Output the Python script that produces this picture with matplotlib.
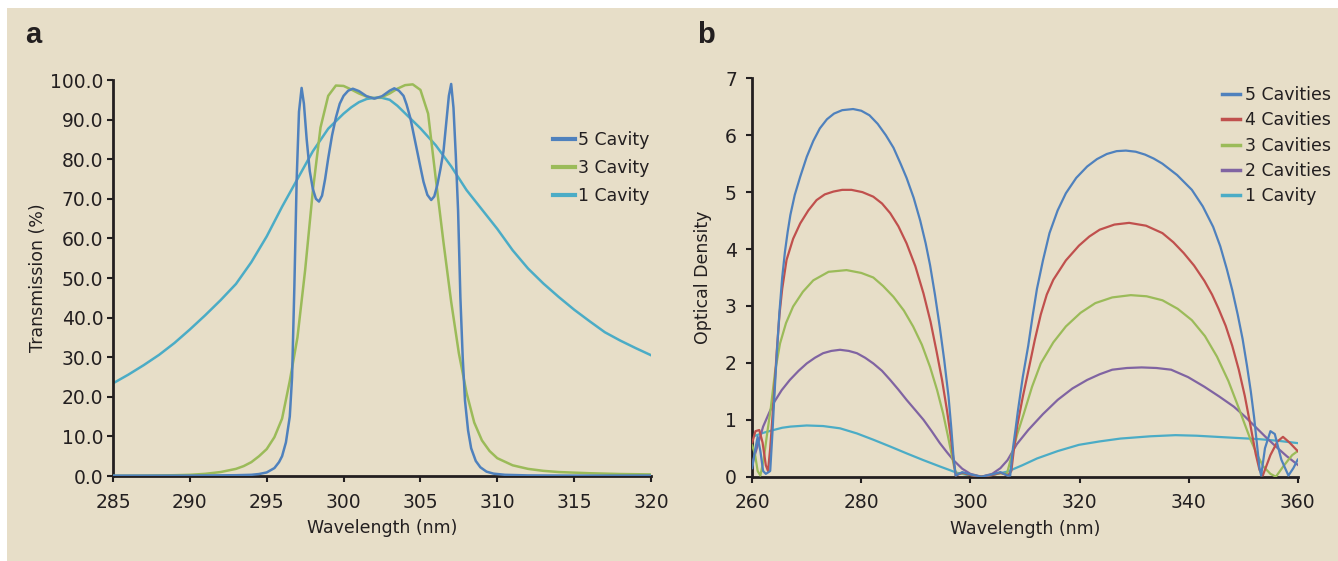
import matplotlib
matplotlib.use("Agg")
import matplotlib.pyplot as plt
from matplotlib.patches import Rectangle

# ---- panel a: transmission ----
wl_1cav = [285, 286, 287, 288, 289, 290, 291, 292, 293, 294, 295, 296, 297,
           298, 299, 300, 300.5, 301, 301.5, 302, 302.5, 303, 303.5, 304, 305,
           306, 307, 308, 309, 310, 311, 312, 313, 314, 315, 316, 317, 318,
           319, 320]
t_1cav = [23.4, 25.6, 28.0, 30.6, 33.6, 37.0, 40.6, 44.4, 48.5, 54.0, 60.5,
          68.0, 75.0, 82.0, 87.7, 91.5, 93.1, 94.4, 95.2, 95.5, 95.5, 95.0,
          93.5, 91.6, 87.8, 83.5, 78.2, 72.2, 67.3, 62.4, 57.0, 52.4, 48.6,
          45.2, 42.0, 39.1, 36.3, 34.2, 32.3, 30.5]

wl_3cav = [285, 287, 289, 290, 291, 292, 293, 293.5, 294, 294.5, 295, 295.5,
           296, 296.5, 297, 297.5, 298, 298.5, 299, 299.5, 300, 300.5, 301,
           301.5, 302, 302.5, 303, 303.5, 304, 304.5, 305, 305.5, 306, 306.5,
           307, 307.5, 308, 308.5, 309, 309.5, 310, 311, 312, 313, 314, 316,
           318, 320]
t_3cav = [0.05, 0.1, 0.2, 0.3, 0.55, 1.0, 1.8, 2.5, 3.5, 5.0, 6.8, 9.8,
          14.5, 24, 35, 52, 72, 88, 96, 98.6, 98.5, 97.6, 96.6,
          95.8, 95.4, 95.7, 96.6, 97.8, 98.7, 98.9, 97.5, 91.5, 75, 59,
          44, 31, 21, 13.5, 9, 6.3, 4.5, 2.7, 1.8, 1.3, 1.0, 0.7,
          0.5, 0.4]

wl_5cav = [285, 290, 293, 294, 294.5, 295, 295.5, 295.8, 296.0, 296.25, 296.5,
           296.65, 296.8, 296.95, 297.1, 297.27, 297.42, 297.6, 297.8, 298.0,
           298.2, 298.4, 298.6, 298.8, 299.0, 299.25, 299.5, 299.75, 300.0,
           300.3, 300.6, 301.0, 301.5, 302.0, 302.5, 303.0, 303.3, 303.6,
           303.9, 304.1, 304.35, 304.55, 304.8, 305.0, 305.2, 305.45, 305.7,
           305.9, 306.1, 306.3, 306.5, 306.7, 306.85, 307.0, 307.15, 307.3,
           307.45, 307.6, 307.75, 307.9, 308.1, 308.3, 308.6, 308.9, 309.3,
           309.75, 310.5, 312, 315, 320]
t_5cav = [0.1, 0.1, 0.2, 0.3, 0.5, 0.9, 2.0, 3.5, 5.0, 8.5, 15,
          25, 48, 75, 92, 98, 94, 85, 77, 72.5,
          70, 69.3, 70.8, 75, 80.2, 86, 90.5, 94, 96,
          97.3, 97.8, 97.2, 95.9, 95.3, 95.9, 97.3, 97.9, 97.3,
          96, 93.8, 90.3, 86.5, 81.8, 78, 74.3, 71, 69.7,
          70.6, 73.5, 77.5, 82, 90, 96, 99, 93, 81,
          67, 45, 30, 19, 11.5, 7, 3.8, 2.2, 1.1,
          0.6, 0.3, 0.15, 0.1, 0.1]

# ---- panel b: optical density ----
wl_b5 = [260.0, 260.5, 261.0, 261.5, 262.0, 262.5, 263.0, 263.3, 263.7, 264.0,
         264.5, 265.0, 265.5, 266.0, 266.5, 267.0, 267.8, 268.8, 270.0, 271.2,
         272.4, 273.7, 275.0, 276.5, 278.5, 280.0, 281.5, 283.0, 284.5, 285.9,
         287.2, 288.3, 289.6, 290.8, 291.8, 292.6, 293.5, 294.4, 295.2, 296.0,
         296.5, 296.9, 297.3, 298.5, 300, 302, 304, 305.5, 306.8, 307.3,
         307.8, 308.3, 308.7, 309.6, 310.6, 311.4, 312.2, 313.3, 314.5, 316.0,
         317.5, 319.4, 321.4, 323.2, 325.0, 326.8, 328.5, 330.3, 332.0, 333.6,
         335.2, 337.9, 340.6, 342.6, 344.5, 345.8, 347.0, 348.0, 349.0, 349.9,
         350.7, 351.4, 352.0, 352.5, 353.0, 353.3, 354.0, 355.0, 355.8, 357.0,
         358.3, 359.2, 360]
od_b5 = [0.15, 0.45, 0.7, 0.45, 0.1, 0.05, 0.08, 0.1, 0.75, 1.3,
         2.15, 2.9, 3.5, 3.95, 4.3, 4.6, 4.95, 5.27, 5.62, 5.9,
         6.12, 6.28, 6.38, 6.44, 6.46, 6.43, 6.35, 6.2, 6.0, 5.78,
         5.5, 5.25, 4.9, 4.5, 4.1, 3.72, 3.2, 2.62, 2.05, 1.4,
         0.85, 0.35, 0.02, 0.08, 0.04, 0.0, 0.04, 0.08, 0.02, 0.02,
         0.5, 0.85, 1.15, 1.75, 2.3, 2.82, 3.3, 3.8, 4.28, 4.68,
         4.98, 5.25, 5.45, 5.58, 5.67, 5.72, 5.73, 5.71, 5.66, 5.59,
         5.5, 5.3, 5.04, 4.75, 4.39, 4.05, 3.65, 3.28, 2.85, 2.42,
         1.95, 1.5, 1.05, 0.6, 0.15, 0.02, 0.5, 0.8, 0.75, 0.3,
         0.02, 0.15, 0.3]

wl_b4 = [260.0, 260.6, 261.3, 261.9, 262.5, 262.9, 263.3, 263.9, 264.5, 265.0,
         265.5, 266.3, 267.5, 268.8, 270.3, 271.8, 273.3, 274.9, 276.5, 278.2,
         280.2, 282.2, 283.8, 285.3, 286.8, 288.3, 289.9, 291.4, 292.7, 293.8,
         294.8, 295.7, 296.4, 296.9, 297.3, 298.5, 300, 302, 304, 305.5,
         306.9, 307.5, 308.0, 308.6, 309.6, 310.6, 311.8, 312.9, 314.0, 315.2,
         317.5, 319.9, 321.8, 323.7, 326.4, 329.1, 332.2, 335.2, 337.2, 339.1,
         341.0, 342.9, 344.3, 345.5, 346.8, 348.0, 349.2, 350.3, 351.3, 352.3,
         353.0, 353.6, 354.3, 355.0, 356.3, 357.3, 358.5, 359.3, 360]
od_b4 = [0.6, 0.8, 0.82, 0.6, 0.2, 0.1, 0.5, 1.3, 2.2, 2.85,
         3.3, 3.81, 4.18, 4.45, 4.68, 4.86, 4.96, 5.01, 5.04, 5.04,
         5.0, 4.92, 4.8, 4.63, 4.4, 4.1, 3.7, 3.22, 2.72, 2.2,
         1.7, 1.17, 0.7, 0.3, 0.02, 0.07, 0.03, 0.0, 0.03, 0.07,
         0.02, 0.1, 0.5, 0.9, 1.4, 1.85, 2.4, 2.85, 3.2, 3.46,
         3.8, 4.06, 4.22, 4.34, 4.43, 4.46, 4.41, 4.28, 4.12, 3.93,
         3.71, 3.44, 3.2, 2.95, 2.65, 2.3, 1.88, 1.42, 0.92, 0.4,
         0.12, 0.02, 0.2, 0.38, 0.62, 0.7, 0.6, 0.52, 0.45]

wl_b3 = [260.0, 260.5, 261.0, 261.5, 262.1, 262.8, 263.4, 264.2, 265.1, 266.2,
         267.5, 269.3, 271.2, 274.0, 277.3, 280.0, 282.2, 284.0, 285.9, 287.8,
         289.5, 291.1, 292.6, 293.9, 295.0, 295.8, 296.5, 297.0, 297.4, 298.5,
         300, 302, 304, 305.5, 306.7, 307.5, 308.6, 309.8, 311.3, 312.9,
         315.2, 317.5, 320.2, 322.9, 326.0, 329.4, 332.3, 335.2, 338.0, 340.6,
         343.0, 345.2, 347.3, 349.1, 350.3, 351.4, 352.6, 353.7, 355.0, 356.0,
         357.5, 359, 360]
od_b3 = [0.55, 0.4, 0.1, 0.02, 0.3, 0.8, 1.2, 1.85, 2.34, 2.7,
         2.99, 3.25, 3.45, 3.6, 3.63, 3.58, 3.5, 3.35, 3.16, 2.92,
         2.64, 2.32, 1.93, 1.52, 1.11, 0.75, 0.42, 0.18, 0.05, 0.06,
         0.03, 0.0, 0.03, 0.06, 0.05, 0.35, 0.75, 1.11, 1.58, 1.99,
         2.36, 2.64, 2.88, 3.05, 3.15, 3.19, 3.17, 3.1, 2.95, 2.75,
         2.47, 2.11, 1.68, 1.23, 0.92, 0.64, 0.38, 0.18, 0.05, 0.0,
         0.2, 0.38, 0.45]

wl_b2 = [260.0, 260.2, 261.0, 262.0, 263.0, 263.9, 265.4, 266.9, 268.5, 270.0,
         271.5, 273.0, 274.5, 276.1, 277.7, 279.2, 280.7, 282.2, 283.8, 285.3,
         286.8, 288.3, 289.9, 291.4, 292.9, 294.4, 295.7, 296.9, 298.5, 300,
         302, 304, 305.5, 306.8, 308.5, 310.6, 313.3, 316.0, 318.7, 321.4,
         323.7, 326.0, 328.7, 331.4, 334.1, 336.8, 339.9, 342.9, 345.6, 348.3,
         350.3, 352.2, 354.1, 356.0, 358.0, 360]
od_b2 = [0.2, 0.29, 0.55, 0.88, 1.1, 1.29, 1.52, 1.70, 1.86, 1.99,
         2.09, 2.17, 2.21, 2.23, 2.21, 2.17, 2.09, 1.99, 1.86, 1.70,
         1.53, 1.35, 1.17, 1.0, 0.8, 0.59, 0.43, 0.29, 0.14, 0.05,
         0.0, 0.05, 0.15, 0.29, 0.57, 0.82, 1.1, 1.35, 1.55, 1.70,
         1.8, 1.88, 1.91, 1.92, 1.91, 1.88, 1.75, 1.58, 1.41, 1.23,
         1.06, 0.88, 0.7, 0.53, 0.36, 0.21]

wl_b1 = [260, 262, 263.9, 265.5, 267, 270, 273, 276.1, 279.2, 282.2, 285.3,
         288.3, 291.4, 294.4, 297.5, 300, 302, 304, 306.8, 309.5, 312.2, 316,
         319.9, 323.7, 327.5, 333, 337.6, 341.5, 345.2, 349, 352.9, 356.5, 360]
od_b1 = [0.70, 0.77, 0.82, 0.86, 0.88, 0.90, 0.89, 0.85, 0.76, 0.65, 0.53,
         0.41, 0.29, 0.18, 0.07, 0.02, 0.0, 0.03, 0.09, 0.2, 0.32, 0.45,
         0.56, 0.62, 0.67, 0.71, 0.73, 0.72, 0.70, 0.68, 0.66, 0.63, 0.59]

BLUE = "#4f81bd"
RED = "#c0504d"
GREEN = "#9bbb59"
PURPLE = "#8064a2"
CYAN = "#4bacc6"
BG = "#e7dec8"
INK = "#231f20"

plt.rcParams["font.family"] = ["DejaVu Sans"]
plt.rcParams["text.color"] = INK
plt.rcParams["axes.labelcolor"] = INK
plt.rcParams["xtick.color"] = INK
plt.rcParams["ytick.color"] = INK

fig = plt.figure(figsize=(13.38, 5.61), dpi=100)
fig.patch.set_facecolor("white")
fig.patches.append(Rectangle((7 / 1338, 0), 1 - 7 / 1338, 1 - 8 / 561,
                             transform=fig.transFigure, facecolor=BG,
                             edgecolor="none", zorder=-10))

ax_a = fig.add_axes([113 / 1338, 1 - 476 / 561, 538 / 1338, 396 / 561])
ax_b = fig.add_axes([752.2 / 1338, 1 - 476.7 / 561, 545.5 / 1338, 398.4 / 561])


def style(ax, ypad):
    ax.set_facecolor("none")
    for s in ["top", "right"]:
        ax.spines[s].set_visible(False)
    for s in ["left", "bottom"]:
        ax.spines[s].set_linewidth(2)
        ax.spines[s].set_color(INK)
    ax.tick_params(direction="out", length=4, width=1.5, labelsize=13.5)
    ax.tick_params(axis="x", pad=8)
    ax.tick_params(axis="y", pad=ypad)


# panel a
ax_a.plot(wl_1cav, t_1cav, color=CYAN, lw=1.8, label="1 Cavity", zorder=2)
ax_a.plot(wl_3cav, t_3cav, color=GREEN, lw=1.8, label="3 Cavity", zorder=3)
ax_a.plot(wl_5cav, t_5cav, color=BLUE, lw=1.8, label="5 Cavity", zorder=4)
ax_a.set_xlim(285, 320)
ax_a.set_ylim(0, 100)
ax_a.set_xticks(range(285, 321, 5))
ax_a.set_yticks(range(0, 101, 10))
ax_a.set_yticklabels(["%.1f" % v for v in range(0, 101, 10)])
style(ax_a, 3)
ax_a.text(0.5, -0.131, "Wavelength (nm)", transform=ax_a.transAxes,
          ha="center", va="center", fontsize=12.5)
ax_a.text(-0.139, 0.5, "Transmission (%)", transform=ax_a.transAxes,
          ha="center", va="center", rotation=90, fontsize=12.5)
h, l = ax_a.get_legend_handles_labels()
leg_a = fig.legend(h[::-1], l[::-1], loc="upper left",
                   bbox_to_anchor=(553 / 1338, 1 - 131 / 561), frameon=False,
                   fontsize=12.5, handlelength=1.25, handletextpad=0.2,
                   labelspacing=0.58, borderpad=0, borderaxespad=0)
for line in leg_a.get_lines():
    line.set_linewidth(3)

# panel b
ax_b.plot(wl_b1, od_b1, color=CYAN, lw=1.6, label="1 Cavity", zorder=2)
ax_b.plot(wl_b2, od_b2, color=PURPLE, lw=1.6, label="2 Cavities", zorder=3)
ax_b.plot(wl_b3, od_b3, color=GREEN, lw=1.6, label="3 Cavities", zorder=4)
ax_b.plot(wl_b4, od_b4, color=RED, lw=1.6, label="4 Cavities", zorder=5)
ax_b.plot(wl_b5, od_b5, color=BLUE, lw=1.6, label="5 Cavities", zorder=6)
ax_b.set_xlim(260, 360)
ax_b.set_ylim(0, 7)
ax_b.set_xticks(range(260, 361, 20))
ax_b.set_yticks(range(0, 8))
style(ax_b, 7)
ax_b.text(0.5, -0.131, "Wavelength (nm)", transform=ax_b.transAxes,
          ha="center", va="center", fontsize=12.5)
ax_b.text(-0.090, 0.5, "Optical Density", transform=ax_b.transAxes,
          ha="center", va="center", rotation=90, fontsize=12.5)
h, l = ax_b.get_legend_handles_labels()
leg_b = fig.legend(h[::-1], l[::-1], loc="upper left",
                   bbox_to_anchor=(1222 / 1338, 1 - 86 / 561), frameon=False,
                   fontsize=12.5, handlelength=1.05, handletextpad=0.3,
                   labelspacing=0.42, borderpad=0, borderaxespad=0)
for line in leg_b.get_lines():
    line.set_linewidth(2.5)

fig.text(25 / 1338, 1 - 43 / 561, "a", fontsize=21, fontweight="bold",
         family="Liberation Sans", ha="left", va="baseline")
fig.text(697 / 1338, 1 - 43 / 561, "b", fontsize=21, fontweight="bold",
         family="Liberation Sans", ha="left", va="baseline")

fig.savefig("out.png", dpi=100, facecolor=fig.get_facecolor())
